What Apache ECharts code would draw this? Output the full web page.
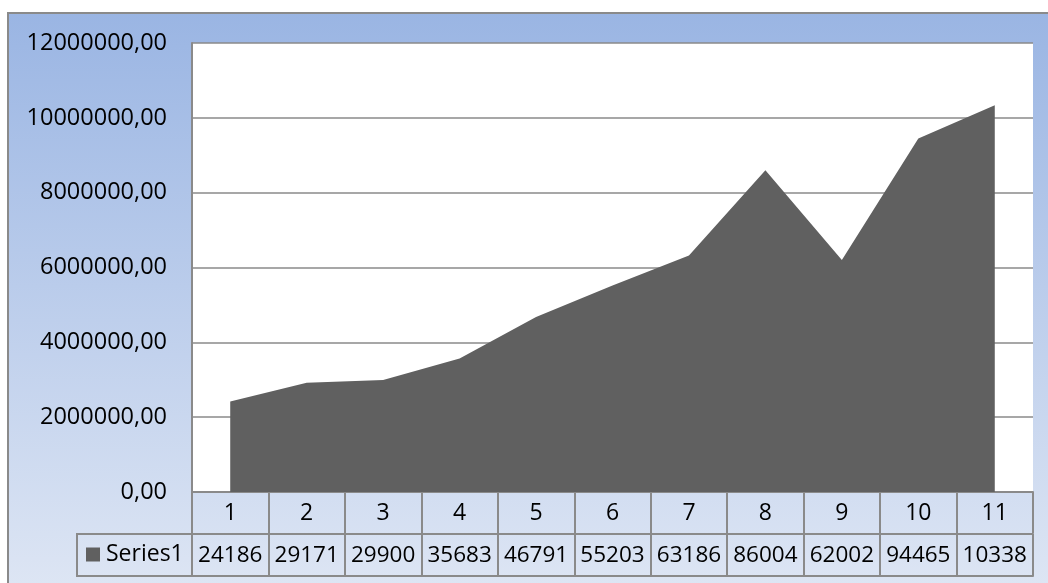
<!DOCTYPE html>
<html>
<head>
<meta charset="utf-8">
<script src="https://cdn.jsdelivr.net/npm/echarts@6/dist/echarts.min.js"></script>
<style>
    html, body { margin: 0; padding: 0; background: #fff; }
    #chart { width: 1048px; height: 583px; }
</style>
</head>
<body>
<div id="chart"></div>
<script>
// categories (x axis / data table header row)
var categories = ['1', '2', '3', '4', '5', '6', '7', '8', '9', '10', '11'];
var series1 = [2418600, 2917100, 2990000, 3568300, 4679100, 5520300, 6318600, 8600400, 6200200, 9446500, 10338000];
// y axis ticks
var yMin = 0;
var yMax = 12000000;
var yStep = 2000000;

var FONT = 'Open Sans';
var GRAY = '#8a8a8a';

// excel style number "2418600,00"
function fmt(v) {
    return v.toFixed(2).replace('.', ',');
}

var chart = echarts.init(document.getElementById('chart'));

var option = {
    backgroundColor: '#fff',
    animation: false,
    graphic: [
        {
            // outer chart area, blue gradient
            type: 'rect',
            z: -10,
            shape: { x: 8, y: 13, width: 1045, height: 580 },
            style: {
                fill: new echarts.graphic.LinearGradient(0, 0, 0, 1, [
                    { offset: 0, color: '#9ab5e3' },
                    { offset: 1, color: '#dee6f4' }
                ]),
                stroke: GRAY,
                lineWidth: 2
            }
        },
        {
            // "Series1" header cell of the data table
            type: 'rect',
            z: 10,
            shape: { x: 77, y: 534, width: 115, height: 42 },
            style: { fill: 'none', stroke: GRAY, lineWidth: 2 }
        }
    ],
    legend: {
        left: 86,
        top: 543,
        padding: 0,
        icon: 'rect',
        itemWidth: 14,
        itemHeight: 14,
        textStyle: { fontFamily: FONT, fontSize: 23, color: '#000', padding: [0, 0, 0, 1] },
        data: ['Series1']
    },
    grid: {
        left: 192,
        top: 43,
        right: 15,
        bottom: 91,
        show: true,
        backgroundColor: '#fff',
        borderWidth: 0,
        borderColor: 'transparent'
    },
    xAxis: [
        {
            type: 'category',
            data: categories,
            boundaryGap: true,
            splitLine: { show: false },
            axisLine: { show: true, lineStyle: { color: GRAY, width: 2 } },
            axisTick: { show: true, interval: 0, length: 41, lineStyle: { color: GRAY, width: 2 } },
            axisLabel: { interval: 0, margin: 10, fontFamily: FONT, fontSize: 23, color: '#000' }
        },
        {
            // data table value row
            type: 'category',
            data: categories,
            boundaryGap: true,
            position: 'bottom',
            offset: 42,
            splitLine: { show: false },
            axisLine: { show: true, lineStyle: { color: GRAY, width: 2 } },
            axisTick: { show: true, interval: 0, length: 42, lineStyle: { color: GRAY, width: 2 } },
            axisLabel: {
                interval: 0,
                margin: 10,
                fontFamily: FONT,
                fontSize: 22.5,
                color: '#000',
                formatter: function (val, idx) {
                    // the cells are too narrow, excel clips the number
                    return fmt(series1[idx]).slice(0, 5);
                }
            }
        },
        {
            // bottom border of the data table
            type: 'category',
            data: categories,
            position: 'bottom',
            offset: 84,
            splitLine: { show: false },
            axisLine: { show: true, lineStyle: { color: GRAY, width: 2 } },
            axisTick: { show: false },
            axisLabel: { show: false }
        }
    ],
    yAxis: {
        type: 'value',
        min: yMin,
        max: yMax,
        interval: yStep,
        axisLine: { show: true, lineStyle: { color: GRAY, width: 2 } },
        axisTick: { show: false },
        axisLabel: {
            margin: 25,
            fontFamily: FONT,
            fontSize: 23.5,
            color: '#000',
            formatter: function (v) { return fmt(v); }
        },
        splitLine: { show: true, lineStyle: { color: GRAY, width: 1.5 } }
    },
    series: [
        {
            name: 'Series1',
            type: 'line',
            xAxisIndex: 0,
            data: series1,
            symbol: 'none',
            itemStyle: { color: '#606060' },
            lineStyle: { color: '#606060', width: 0 },
            areaStyle: { color: '#606060', opacity: 1 }
        }
    ]
};

chart.setOption(option);
</script>
</body>
</html>
